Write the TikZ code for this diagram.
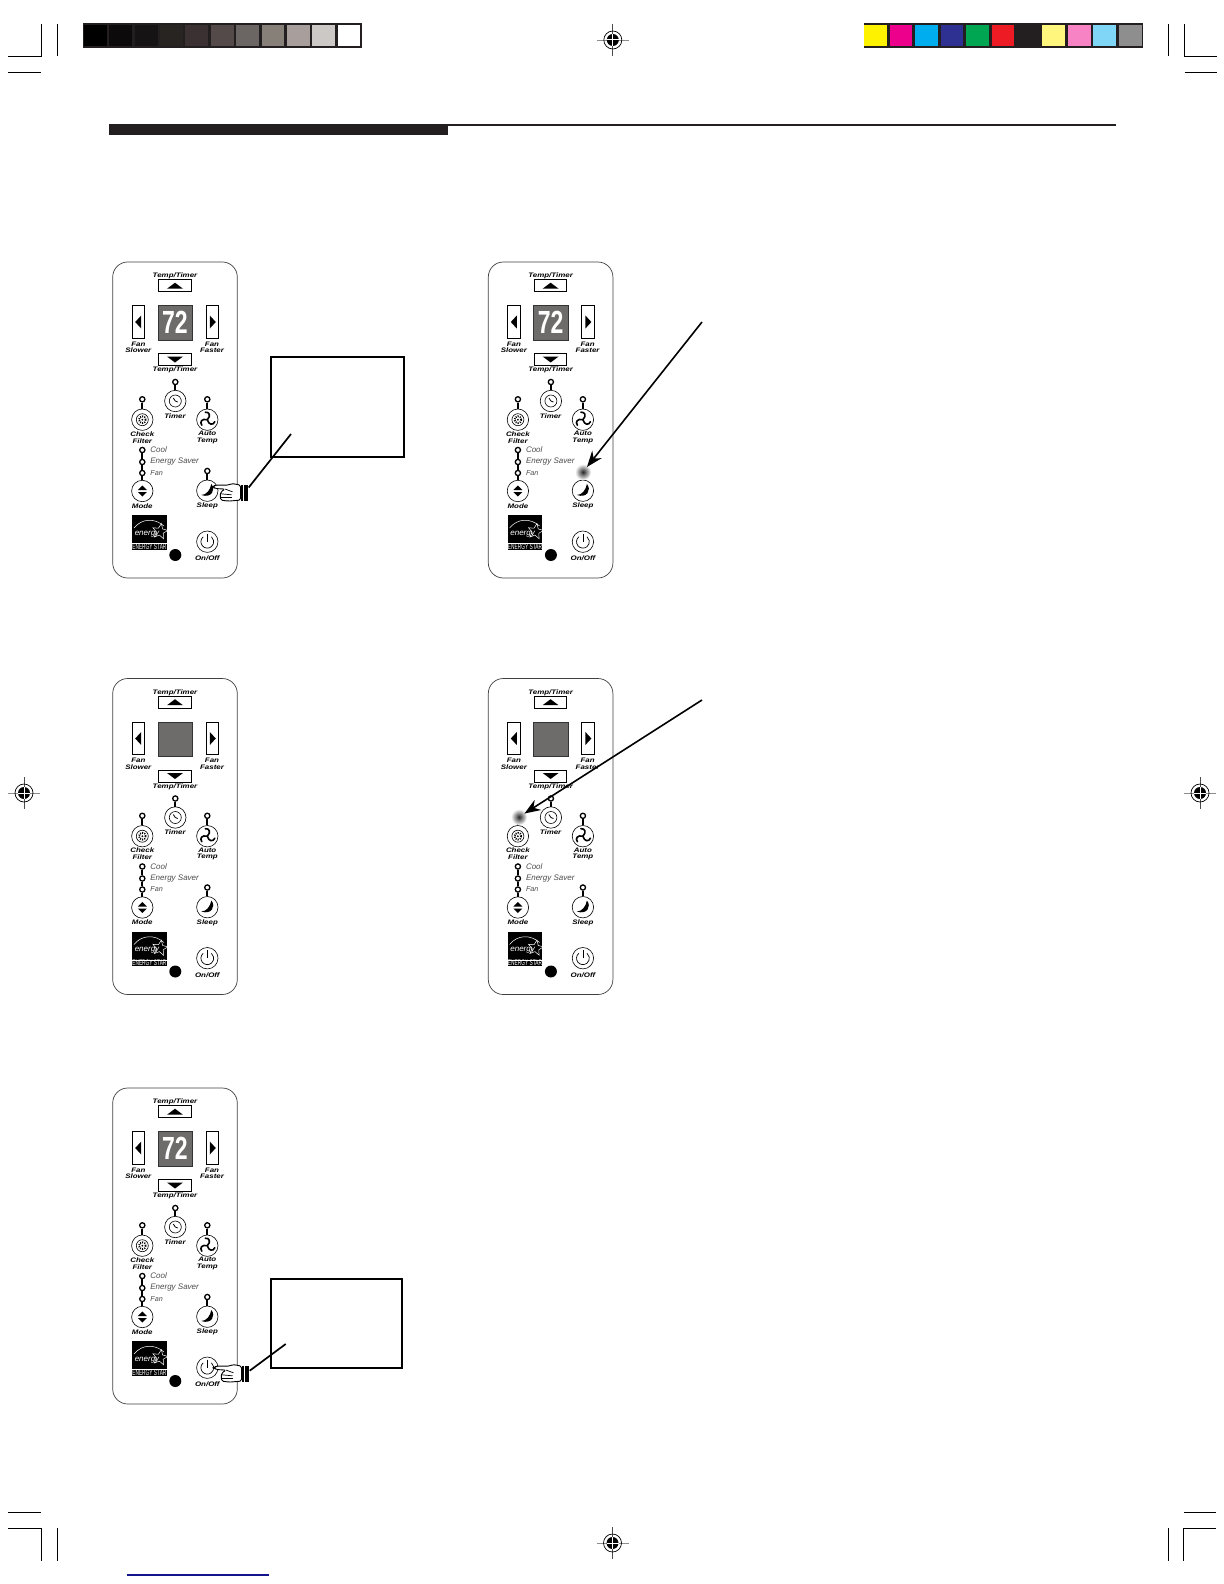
\documentclass[tikz,border=0pt]{standalone}
\usepackage{fontspec}
\usepackage{xcolor}
\setmainfont{Liberation Sans}
\newfontfamily\panelfont[FakeStretch=1.22]{Liberation Sans}
\usetikzlibrary{arrows.meta,positioning,shapes.geometric}
\definecolor{inkblack}{HTML}{231F20}
\definecolor{dispgray}{HTML}{6E6B6B}
\definecolor{sideblue}{HTML}{14148C}
\definecolor{toneA}{HTML}{000000}
\definecolor{toneB}{HTML}{0C0A0A}
\definecolor{toneC}{HTML}{151313}
\definecolor{toneD}{HTML}{272421}
\definecolor{toneE}{HTML}{3B3132}
\definecolor{toneF}{HTML}{544A4A}
\definecolor{toneG}{HTML}{6B6563}
\definecolor{toneH}{HTML}{868079}
\definecolor{toneI}{HTML}{A89F9C}
\definecolor{toneJ}{HTML}{CCC8C6}
\definecolor{toneK}{HTML}{FFFFFF}
\definecolor{barA}{HTML}{FFF200}
\definecolor{barB}{HTML}{EC008C}
\definecolor{barC}{HTML}{00AEEF}
\definecolor{barD}{HTML}{2E3192}
\definecolor{barE}{HTML}{00A651}
\definecolor{barF}{HTML}{ED1C24}
\definecolor{barG}{HTML}{231F20}
\definecolor{barH}{HTML}{FFF77D}
\definecolor{barI}{HTML}{F783C4}
\definecolor{barJ}{HTML}{7FD6F7}
\definecolor{barK}{HTML}{8E8E8E}
\tikzset{
  panelbox/.style={rectangle, draw=black!75, line width=.35pt, rounded corners=7.5pt,
                   minimum width=62.3pt, minimum height=158pt, fill=white},
  keybox/.style={rectangle, draw=black, line width=.5pt, fill=white, inner sep=0pt},
  btnbox/.style={circle, draw=black, line width=.3pt, fill=white, minimum size=10.7pt, inner sep=0pt},
  ledbox/.style={circle, draw=black, line width=.65pt, fill=white, minimum size=2.6pt, inner sep=0pt},
  stem/.style={line width=1pt},
  keylabel/.style={inner sep=0pt, align=center, font=\panelfont\fontsize{3.25}{3.35}\selectfont\bfseries\itshape},
  modelabel/.style={inner sep=0pt, anchor=west, text=black!70, font=\fontsize{4}{4}\selectfont\itshape},
  dispbox/.style={rectangle, fill=dispgray, draw=black!80, line width=.2pt, minimum size=17.2pt, inner sep=0pt,
                  text=white, font=\fontsize{16}{16}\selectfont\bfseries},
  callbox/.style={rectangle, draw=black, line width=.85pt, fill=white},
  glowspot/.style={circle, inner color=black!85, outer color=white, minimum size=8pt, inner sep=0pt},
  swatch/.style={rectangle, minimum width=11.4pt, minimum height=10.7pt, inner sep=0pt},
  arr/.style={-{Stealth[length=8pt,width=6pt]}, line width=.8pt, draw=black, shorten >=-1pt},
  leader/.style={line width=.85pt, draw=black},
  cropline/.style={line width=.4pt, draw=black},
  pics/remote/.style={code={
    \node[panelbox] (-panel) at (0,158) {};
    \node[keylabel] (-temptop) at (0,14) {Temp/Timer};
    \node[keybox, minimum width=16.2pt, minimum height=6pt] (-up) at (0,23.7) {};
    \node[dispbox] (-disp) at (0,60.5) {\scalebox{.72}[1]{#1}};
    \node[keybox, minimum width=6.2pt, minimum height=16.2pt] (-left) at (-36.5,60) {};
    \node[keybox, minimum width=6.2pt, minimum height=16.2pt] (-right) at (37.5,60) {};
    \node[keylabel] (-slower) at (-36.7,85.2) {Fan\\Slower};
    \node[keylabel] (-faster) at (37,85.2) {Fan\\Faster};
    \node[keybox, minimum width=16.2pt, minimum height=6pt] (-down) at (0,97.5) {};
    \node[keylabel] (-tempbot) at (0,108) {Temp/Timer};
    \fill (-8,26.7) -- (8,26.7) -- (0,20.7) -- cycle;
    \fill (-8,94.5) -- (8,94.5) -- (0,100.5) -- cycle;
    \fill (-33.8,53.5) -- (-33.8,66.5) -- (-39.8,60) -- cycle;
    \fill (34.8,53.5) -- (34.8,66.5) -- (40.8,60) -- cycle;
    \foreach \nm/\xx/\yy/\bb in {timer/0.3/120/139, check/-32.7/137.3/157.7, auto/32.3/137.3/157.7, sleep/32.3/209/228.7}{
      \node[btnbox] (-\nm btn) at (\xx,\bb) {};
      \node[ledbox] (-\nm led) at (\xx,\yy) {};
      \draw[stem] (-\nm led) -- (-\nm btn);
    }
    \node[btnbox] (-modebtn) at (-32.7,229) {};
    \node[btnbox] (-powerbtn) at (32.3,279.7) {};
    \node[ledbox] (-cool) at (-32.7,188) {};
    \node[ledbox] (-saver) at (-32.7,200) {};
    \node[ledbox] (-fan) at (-32.7,211) {};
    \draw[stem] (-cool) -- (-saver);
    \draw[stem] (-saver) -- (-fan);
    \draw[stem] (-fan) -- (-modebtn);
    \node[modelabel] (-cooltxt) at (-25,188) {Cool};
    \node[modelabel] (-savertxt) at (-25,200) {Energy Saver};
    \node[modelabel, font=\fontsize{3.6}{4}\selectfont\itshape] (-fantxt) at (-25,211) {Fan};
    \node[keylabel] (-timertxt) at (0,154) {Timer};
    \node[keylabel] (-checktxt) at (-32.7,175.4) {Check\\Filter};
    \node[keylabel] (-autotxt) at (32.3,175.4) {Auto\\Temp};
    \node[keylabel] (-modetxt) at (-32.7,244) {Mode};
    \node[keylabel] (-sleeptxt) at (32.3,244) {Sleep};
    \node[keylabel] (-powertxt) at (32.3,296.3) {On/Off};
    % timer icon
    \draw[line width=.3pt] (0.3,139) circle[radius=3pt];
    \draw[line width=.4pt] (-1.7,136) -- (0.3,139) -- (2.8,140);
    % filter icon
    \draw[line width=.3pt] (-32.7,157.7) circle[radius=3pt];
    \draw[line width=.9pt, dash pattern=on .5pt off .6pt] (-32.7,157.7) circle[radius=1.7pt];
    \fill (-32.7,157.7) circle[radius=.5pt];
    % fan icon
    \foreach \ang in {0,120,240}{
      \draw[line width=.8pt, rotate around={\ang:(32.3,157.7)}, line cap=round]
        (32.3,157.7) .. controls (36.3,153.7) and (34.3,149.7) .. (30.3,150.2);
    }
    % mode icon
    \fill (-37.2,228) -- (-28.2,228) -- (-32.7,223.5) -- cycle;
    \fill (-37.2,230) -- (-28.2,230) -- (-32.7,234.5) -- cycle;
    % sleep icon
    \fill (36.3,222) .. controls (41.3,228) and (36.3,236.5) .. (26.3,233)
      .. controls (31.3,233) and (35.3,228) .. cycle;
    % power icon
    \draw[line width=.35pt] (28.2,274.8) arc[start angle=130,end angle=410,radius=3.2pt];
    \draw[line width=.35pt] (32.3,271.7) -- (32.3,279.7);
    % energy logo
    \node[rectangle, fill=black, minimum size=17.3pt, inner sep=0pt] (-logo) at (-25.6,270.6) {};
    \draw[white, line width=.25pt] (-43,281.3) -- (-8.4,281.3);
    \draw[white, line width=.25pt] (-41,266) .. controls (-33,256) and (-20,256) .. (-11,264);
    \node[star, star points=5, star point ratio=2.2, draw=white, line width=.25pt, minimum size=8pt, inner sep=0pt, rotate=-10]
      (-logostar) at (-15,269.5) {};
    \node[inner sep=0pt, text=white, font=\fontsize{4}{4}\selectfont\itshape] (-logotxt) at (-28,272) {energy};
    \node[inner sep=0pt, text=white, font=\fontsize{4}{4}\selectfont] (-logoname) at (-25.6,284.7) {\scalebox{.6}[1]{ENERGY STAR}};
    % indicator dot
    \node[circle, fill=black, minimum size=6pt, inner sep=0pt] (-eye) at (0.3,293) {};
  }},
  pics/presshand/.style={code={
    \draw[fill=white, line width=.45pt, rounded corners=.8pt]
      (-4,-7.7) -- (-12.7,-9.3) -- (-16,-7.7) -- (-29.3,-7.7) -- (-31.7,-6) -- (-29.3,-4.3) -- (-19.3,-3.7)
      -- (-23.7,-1) -- (-24.3,3) -- (-23.7,7.3) -- (-16,8.3) -- (-4,7.3) -- cycle;
    \draw[line width=.35pt] (-19.3,-3.7) -- (-12,-1);
    \draw[line width=.35pt] (-23.7,1) -- (-13,2);
    \draw[line width=.35pt] (-24,5) -- (-13,5);
    \node[rectangle, fill=black, minimum width=3.8pt, minimum height=7.8pt, inner sep=0pt] (-cuff) at (0,0) {};
    \draw[white, line width=.25pt] (-1.6,-7.8) -- (-1.6,7.8);
  }},
  pics/regmark/.style={code={
    \draw[black!45, line width=.35pt] (-16,0) -- (16,0);
    \draw[black!70, line width=.35pt] (0,-16) -- (0,16);
    \draw[line width=.35pt] (0,0) circle[radius=4.5pt];
    \fill (0,0) circle[radius=3pt];
    \draw[white, line width=.5pt] (-6,0) -- (6,0);
    \draw[white, line width=.5pt] (0,-6) -- (0,6);
  }},
}
\begin{document}
\begin{tikzpicture}[x=.5pt, y=-.5pt]
  \useasboundingbox (0,0) rectangle (1224,1584);
  \fill[inkblack] (83,22.7) rectangle (361.5,48);
  \fill[inkblack] (863.5,22.7) rectangle (1143,48);
  \foreach \tone [count=\i from 0] in {toneA,toneB,toneC,toneD,toneE,toneF,toneG,toneH,toneI,toneJ,toneK}{
    \node[swatch, fill=\tone] (gray\i) at ({95.4+25.36*\i},35.3) {};
  }
  \foreach \tone [count=\i from 0] in {barA,barB,barC,barD,barE,barF,barG,barH,barI,barJ,barK}{
    \node[swatch, fill=\tone] (tint\i) at ({875.5+25.48*\i},35.3) {};
  }
  \draw[cropline] (8,56) -- (41.5,56) -- (41.5,24);
  \draw[cropline] (57.7,24) -- (57.7,56);
  \draw[cropline] (8,72) -- (41,72);
  \draw[cropline] (1168.6,24) -- (1168.6,56);
  \draw[cropline] (1217,56) -- (1184.5,56) -- (1184.5,24);
  \draw[cropline] (1184.5,72) -- (1217,72);
  \draw[cropline] (8,1512) -- (41,1512);
  \draw[cropline] (8,1528) -- (41.4,1528) -- (41.4,1561);
  \draw[cropline] (57,1528) -- (57,1561);
  \draw[cropline] (1168,1528) -- (1168,1561);
  \draw[cropline] (1216,1528) -- (1183.5,1528) -- (1183.5,1561);
  \draw[cropline] (1184,1512) -- (1216,1512);
  \pic at (612.8,40) {regmark};
  \pic at (24,793) {regmark};
  \pic at (1200,793) {regmark};
  \pic at (612.5,1543) {regmark};
  \fill[inkblack] (108.7,124) rectangle (448,135);
  \fill[inkblack] (108.7,124) rectangle (1116,126);
  \draw[sideblue, line width=.7pt] (127,1575) -- (269,1575);

  \pic (panA) at (175,262) {remote=72};
  \pic (panB) at (550.6,262) {remote=72};
  \pic (panC) at (175,678.5) {remote=};
  \pic (panD) at (550.6,678.5) {remote=};
  \pic (panE) at (175,1088) {remote=72};

  \node[callbox, minimum width=66.8pt, minimum height=49.85pt] (noteA) at (337.5,406.85) {};
  \node[callbox, minimum width=65.65pt, minimum height=44.4pt] (noteE) at (336.35,1323.5) {};
  \pic (handA) at (244.5,492.8) {presshand};
  \pic (handE) at (245.5,1373.8) {presshand};
  \coordinate (leadA) at (291,434);
  \coordinate (leadE) at (285.7,1344);
  \draw[leader] (handA-cuff) -- (leadA);
  \draw[leader] (handE-cuff) -- (leadE);

  \node[glowspot] (glowB) at (583,472) {};
  \node[glowspot] (glowD) at (519,817) {};
  \coordinate (tailB) at (702,322);
  \coordinate (tailD) at (702,700);
  \draw[arr] (tailB) -- (glowB);
  \draw[arr] (tailD) -- (glowD);
\end{tikzpicture}
\end{document}
